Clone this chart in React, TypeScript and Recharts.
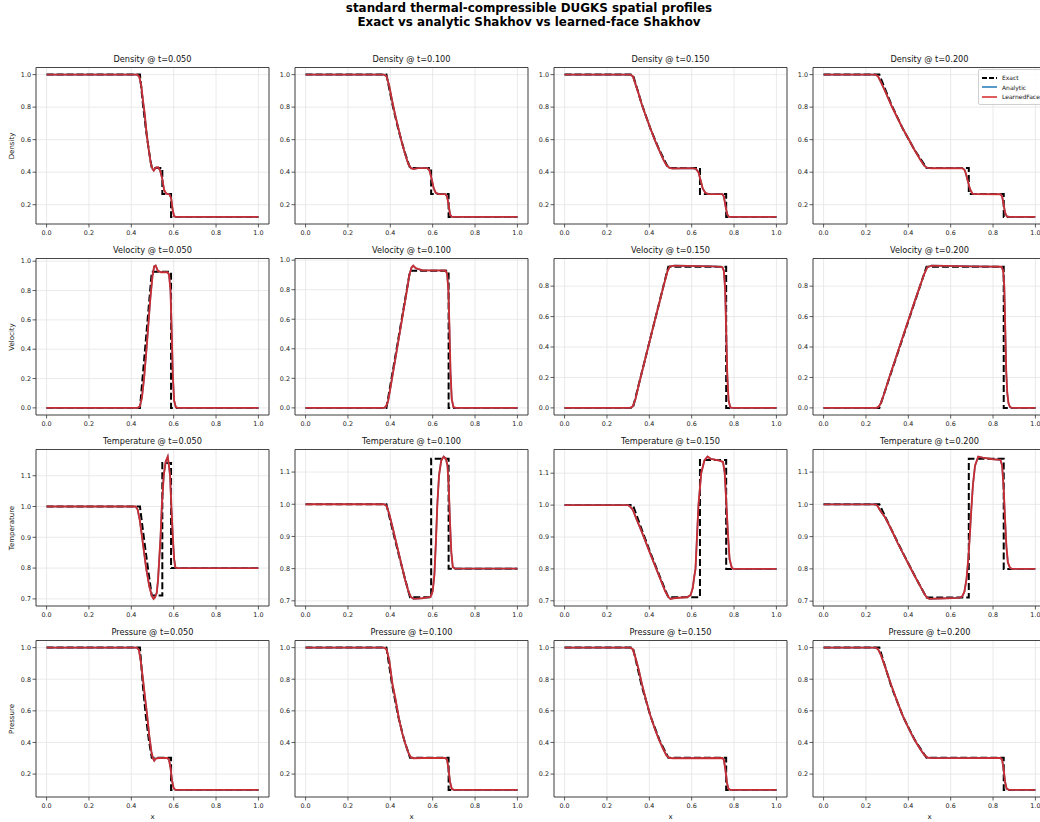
import React from 'react';
import { LineChart, Line, XAxis, YAxis, CartesianGrid, ReferenceArea } from 'recharts';

// Sod tube profiles at four output times; each entry is [x, value]
const quantities = ['Density', 'Velocity', 'Temperature', 'Pressure'];
const times = ['0.050', '0.100', '0.150', '0.200'];
const xTicks = [0, 0.2, 0.4, 0.6, 0.8, 1.0];
const densityTicks = [0.2, 0.4, 0.6, 0.8, 1.0];
const velocityTicks = [0, 0.2, 0.4, 0.6, 0.8, 1.0];
const temperatureTicks = [0.7, 0.8, 0.9, 1.0, 1.1];
const pressureTicks = [0.2, 0.4, 0.6, 0.8, 1.0];

const densityExact = [
  [[0, 1], [0.4408, 1], [0.4547, 0.8188], [0.4687, 0.6649], [0.4826, 0.5351], [0.4965, 0.4263], [0.5464, 0.4263], [0.5464, 0.2656], [0.5876, 0.2656], [0.5876, 0.125], [1, 0.125]],
  [[0, 1], [0.3817, 1], [0.4095, 0.8188], [0.4374, 0.6649], [0.4652, 0.5351], [0.493, 0.4263], [0.5927, 0.4263], [0.5927, 0.2656], [0.6752, 0.2656], [0.6752, 0.125], [1, 0.125]],
  [[0, 1], [0.3225, 1], [0.3643, 0.8188], [0.406, 0.6649], [0.4478, 0.5351], [0.4895, 0.4263], [0.6391, 0.4263], [0.6391, 0.2656], [0.7628, 0.2656], [0.7628, 0.125], [1, 0.125]],
  [[0, 1], [0.2634, 1], [0.319, 0.8188], [0.3747, 0.6649], [0.4303, 0.5351], [0.4859, 0.4263], [0.6855, 0.4263], [0.6855, 0.2656], [0.8504, 0.2656], [0.8504, 0.125], [1, 0.125]],
];

const velocityExact = [
  [[0, 0], [0.4408, 0], [0.4965, 0.9274], [0.5876, 0.9274], [0.5876, 0], [1, 0]],
  [[0, 0], [0.3817, 0], [0.493, 0.9274], [0.6752, 0.9274], [0.6752, 0], [1, 0]],
  [[0, 0], [0.3225, 0], [0.4895, 0.9274], [0.7628, 0.9274], [0.7628, 0], [1, 0]],
  [[0, 0], [0.2634, 0], [0.4859, 0.9274], [0.8504, 0.9274], [0.8504, 0], [1, 0]],
];

const temperatureExact = [
  [[0, 1], [0.4408, 1], [0.4547, 0.9232], [0.4687, 0.8494], [0.4826, 0.7787], [0.4965, 0.7111], [0.5464, 0.7111], [0.5464, 1.1414], [0.5876, 1.1414], [0.5876, 0.8], [1, 0.8]],
  [[0, 1], [0.3817, 1], [0.4095, 0.9232], [0.4374, 0.8494], [0.4652, 0.7787], [0.493, 0.7111], [0.5927, 0.7111], [0.5927, 1.1414], [0.6752, 1.1414], [0.6752, 0.8], [1, 0.8]],
  [[0, 1], [0.3225, 1], [0.3643, 0.9232], [0.406, 0.8494], [0.4478, 0.7787], [0.4895, 0.7111], [0.6391, 0.7111], [0.6391, 1.1414], [0.7628, 1.1414], [0.7628, 0.8], [1, 0.8]],
  [[0, 1], [0.2634, 1], [0.319, 0.9232], [0.3747, 0.8494], [0.4303, 0.7787], [0.4859, 0.7111], [0.6855, 0.7111], [0.6855, 1.1414], [0.8504, 1.1414], [0.8504, 0.8], [1, 0.8]],
];

const pressureExact = [
  [[0, 1], [0.4408, 1], [0.4547, 0.7559], [0.4687, 0.5648], [0.4826, 0.4166], [0.4965, 0.3031], [0.5876, 0.3031], [0.5876, 0.1], [1, 0.1]],
  [[0, 1], [0.3817, 1], [0.4095, 0.7559], [0.4374, 0.5648], [0.4652, 0.4166], [0.493, 0.3031], [0.6752, 0.3031], [0.6752, 0.1], [1, 0.1]],
  [[0, 1], [0.3225, 1], [0.3643, 0.7559], [0.406, 0.5648], [0.4478, 0.4166], [0.4895, 0.3031], [0.7628, 0.3031], [0.7628, 0.1], [1, 0.1]],
  [[0, 1], [0.2634, 1], [0.319, 0.7559], [0.3747, 0.5648], [0.4303, 0.4166], [0.4859, 0.3031], [0.8504, 0.3031], [0.8504, 0.1], [1, 0.1]],
];

const densityLearned = [
  [[0, 1], [0.428, 1], [0.438, 0.985], [0.447, 0.93], [0.455, 0.84], [0.463, 0.76], [0.472, 0.64], [0.482, 0.54], [0.492, 0.455], [0.5, 0.42], [0.506, 0.41], [0.515, 0.428], [0.527, 0.43], [0.536, 0.41], [0.546, 0.36], [0.555, 0.29], [0.565, 0.268], [0.58, 0.263], [0.588, 0.24], [0.595, 0.17], [0.602, 0.128], [0.612, 0.125], [1, 0.125]],
  [[0, 1], [0.37, 1], [0.382, 0.99], [0.395, 0.93], [0.41, 0.83], [0.425, 0.74], [0.44, 0.66], [0.455, 0.58], [0.47, 0.51], [0.485, 0.45], [0.497, 0.425], [0.51, 0.42], [0.53, 0.425], [0.575, 0.425], [0.585, 0.41], [0.595, 0.36], [0.605, 0.3], [0.615, 0.272], [0.63, 0.265], [0.66, 0.265], [0.668, 0.25], [0.675, 0.2], [0.682, 0.14], [0.69, 0.126], [0.7, 0.125], [1, 0.125]],
  [[0, 1], [0.31, 1], [0.322, 0.99], [0.335, 0.94], [0.35, 0.88], [0.365, 0.815], [0.385, 0.74], [0.405, 0.67], [0.425, 0.6], [0.445, 0.54], [0.465, 0.48], [0.48, 0.445], [0.495, 0.426], [0.51, 0.423], [0.6, 0.425], [0.62, 0.42], [0.632, 0.4], [0.642, 0.35], [0.652, 0.3], [0.665, 0.272], [0.68, 0.265], [0.745, 0.265], [0.752, 0.25], [0.76, 0.19], [0.768, 0.14], [0.775, 0.126], [0.785, 0.125], [1, 0.125]],
  [[0, 1], [0.245, 1], [0.257, 0.99], [0.27, 0.955], [0.29, 0.9], [0.32, 0.81], [0.35, 0.73], [0.375, 0.665], [0.405, 0.595], [0.43, 0.535], [0.455, 0.48], [0.475, 0.44], [0.49, 0.426], [0.51, 0.424], [0.655, 0.425], [0.665, 0.415], [0.672, 0.39], [0.68, 0.35], [0.688, 0.31], [0.695, 0.285], [0.703, 0.268], [0.715, 0.265], [0.836, 0.264], [0.843, 0.25], [0.85, 0.2], [0.857, 0.15], [0.865, 0.128], [0.875, 0.125], [1, 0.125]],
];

const velocityLearned = [
  [[0, 0], [0.43, 0], [0.44, 0.01], [0.45, 0.07], [0.46, 0.2], [0.47, 0.37], [0.48, 0.56], [0.49, 0.75], [0.5, 0.9], [0.508, 0.965], [0.515, 0.97], [0.525, 0.935], [0.54, 0.925], [0.57, 0.925], [0.578, 0.91], [0.585, 0.8], [0.59, 0.55], [0.596, 0.22], [0.602, 0.05], [0.61, 0.005], [0.62, 0], [1, 0]],
  [[0, 0], [0.37, 0], [0.38, 0.01], [0.39, 0.05], [0.4, 0.13], [0.42, 0.3], [0.44, 0.47], [0.46, 0.64], [0.48, 0.81], [0.49, 0.9], [0.5, 0.95], [0.508, 0.963], [0.52, 0.945], [0.55, 0.932], [0.66, 0.93], [0.668, 0.91], [0.674, 0.8], [0.679, 0.55], [0.684, 0.25], [0.69, 0.06], [0.698, 0.005], [0.71, 0], [1, 0]],
  [[0, 0], [0.31, 0], [0.322, 0.01], [0.335, 0.06], [0.35, 0.15], [0.375, 0.29], [0.4, 0.43], [0.425, 0.57], [0.45, 0.705], [0.47, 0.815], [0.485, 0.895], [0.497, 0.93], [0.52, 0.935], [0.7, 0.93], [0.745, 0.925], [0.752, 0.9], [0.758, 0.78], [0.763, 0.5], [0.768, 0.22], [0.774, 0.05], [0.782, 0.005], [0.79, 0], [1, 0]],
  [[0, 0], [0.25, 0], [0.26, 0.008], [0.27, 0.03], [0.285, 0.09], [0.31, 0.2], [0.34, 0.325], [0.37, 0.45], [0.4, 0.575], [0.43, 0.7], [0.455, 0.8], [0.475, 0.88], [0.49, 0.925], [0.51, 0.935], [0.7, 0.93], [0.84, 0.928], [0.848, 0.9], [0.853, 0.8], [0.858, 0.5], [0.862, 0.25], [0.867, 0.1], [0.873, 0.03], [0.88, 0.005], [0.89, 0], [1, 0]],
];

const temperatureLearned = [
  [[0, 1], [0.42, 1], [0.43, 0.99], [0.44, 0.955], [0.451, 0.9], [0.47, 0.8], [0.485, 0.74], [0.497, 0.71], [0.505, 0.7], [0.512, 0.705], [0.52, 0.72], [0.526, 0.76], [0.532, 0.83], [0.538, 0.9], [0.544, 1.0], [0.553, 1.1], [0.562, 1.145], [0.572, 1.162], [0.578, 1.13], [0.583, 1.1], [0.589, 1.0], [0.596, 0.9], [0.602, 0.83], [0.608, 0.802], [0.62, 0.8], [1, 0.8]],
  [[0, 1], [0.37, 1], [0.382, 0.995], [0.395, 0.97], [0.41, 0.93], [0.43, 0.875], [0.45, 0.82], [0.47, 0.765], [0.485, 0.73], [0.497, 0.712], [0.51, 0.706], [0.55, 0.708], [0.59, 0.712], [0.6, 0.73], [0.608, 0.78], [0.615, 0.88], [0.622, 1.0], [0.63, 1.09], [0.64, 1.135], [0.652, 1.148], [0.662, 1.142], [0.67, 1.12], [0.676, 1.05], [0.682, 0.94], [0.688, 0.85], [0.695, 0.805], [0.705, 0.8], [1, 0.8]],
  [[0, 1], [0.3, 1], [0.31, 0.995], [0.3225, 0.985], [0.34, 0.955], [0.365, 0.915], [0.406, 0.845], [0.448, 0.775], [0.475, 0.73], [0.49, 0.712], [0.5, 0.706], [0.515, 0.708], [0.58, 0.712], [0.595, 0.718], [0.605, 0.74], [0.612, 0.775], [0.618, 0.8], [0.625, 0.9], [0.632, 1.0], [0.645, 1.1], [0.66, 1.14], [0.675, 1.152], [0.69, 1.145], [0.73, 1.14], [0.748, 1.135], [0.756, 1.1], [0.764, 1.0], [0.772, 0.9], [0.779, 0.83], [0.79, 0.802], [0.8, 0.8], [1, 0.8]],
  [[0, 1], [0.245, 1], [0.255, 0.995], [0.268, 0.98], [0.29, 0.96], [0.32, 0.922], [0.35, 0.88], [0.375, 0.848], [0.4, 0.816], [0.43, 0.778], [0.46, 0.742], [0.48, 0.718], [0.49, 0.71], [0.5, 0.707], [0.55, 0.708], [0.64, 0.71], [0.655, 0.715], [0.665, 0.73], [0.675, 0.77], [0.683, 0.83], [0.69, 0.9], [0.697, 0.98], [0.705, 1.06], [0.715, 1.12], [0.73, 1.148], [0.75, 1.145], [0.8, 1.14], [0.835, 1.138], [0.843, 1.12], [0.85, 1.05], [0.857, 0.95], [0.863, 0.87], [0.87, 0.82], [0.88, 0.803], [0.89, 0.8], [1, 0.8]],
];

const pressureLearned = [
  [[0, 1], [0.426, 1], [0.436, 0.985], [0.445, 0.91], [0.455, 0.8], [0.465, 0.68], [0.474, 0.58], [0.485, 0.44], [0.495, 0.34], [0.502, 0.3], [0.508, 0.285], [0.515, 0.298], [0.53, 0.302], [0.57, 0.302], [0.578, 0.29], [0.585, 0.24], [0.592, 0.16], [0.6, 0.11], [0.608, 0.1], [1, 0.1]],
  [[0, 1], [0.37, 1], [0.382, 0.99], [0.395, 0.92], [0.41, 0.77], [0.425, 0.67], [0.44, 0.555], [0.455, 0.465], [0.47, 0.395], [0.485, 0.335], [0.497, 0.305], [0.51, 0.3], [0.55, 0.302], [0.66, 0.302], [0.668, 0.29], [0.675, 0.23], [0.682, 0.15], [0.69, 0.107], [0.7, 0.1], [1, 0.1]],
  [[0, 1], [0.31, 1], [0.322, 0.99], [0.335, 0.935], [0.35, 0.86], [0.365, 0.77], [0.385, 0.665], [0.405, 0.57], [0.425, 0.49], [0.445, 0.42], [0.465, 0.36], [0.48, 0.32], [0.493, 0.303], [0.51, 0.3], [0.745, 0.302], [0.752, 0.29], [0.759, 0.23], [0.766, 0.15], [0.773, 0.108], [0.782, 0.1], [1, 0.1]],
  [[0, 1], [0.245, 1], [0.257, 0.99], [0.27, 0.955], [0.29, 0.88], [0.32, 0.76], [0.35, 0.65], [0.375, 0.565], [0.405, 0.48], [0.43, 0.415], [0.455, 0.36], [0.475, 0.322], [0.49, 0.305], [0.51, 0.301], [0.835, 0.302], [0.843, 0.29], [0.85, 0.23], [0.857, 0.15], [0.864, 0.108], [0.875, 0.1], [1, 0.1]],
];

const exactSets = [densityExact, velocityExact, temperatureExact, pressureExact];
const learnedSets = [densityLearned, velocityLearned, temperatureLearned, pressureLearned];
// analytic Shakhov closure sits on top of the learned one at this resolution
const analyticSets = learnedSets;
const tickSets = [densityTicks, velocityTicks, temperatureTicks, pressureTicks];

const FONT = '"DejaVu Sans", sans-serif';
const PLOT_X0 = 36;
const PLOT_Y0 = 67.5;
const COL_STEP = 259;
const ROW_STEP = 191;
const PLOT_W = 233;
const PLOT_H = 156.5;
const AXIS_W = 40;
const M_TOP = 6.5;
const M_RIGHT = 8;
const XAXIS_H = 22;
const X_DOMAIN: [number, number] = [-0.05, 1.05];

const EXACT_COLOR = '#000000';
const ANALYTIC_COLOR = '#1f77b4';
const LEARNED_COLOR = '#d62728';

const tickStyle = { fontSize: 6.4, fill: '#222', fontFamily: FONT };
const tickLineStyle = { stroke: '#333', strokeWidth: 0.8 };

const toPoints = (rows: number[][]) => rows.map(([x, y]) => ({ x, y }));

function Panel({ r, c }: { r: number; c: number }) {
  const exact = toPoints(exactSets[r][c]);
  const analytic = toPoints(analyticSets[r][c]);
  const learned = toPoints(learnedSets[r][c]);
  const ys = [...exact, ...learned].map((p) => p.y);
  const lo = Math.min(...ys);
  const hi = Math.max(...ys);
  const pad = (hi - lo) * 0.05;
  const yDomain: [number, number] = [lo - pad, hi + pad];
  const yTicks = tickSets[r].filter((v) => v >= yDomain[0] - 1e-9 && v <= yDomain[1] + 1e-9);
  const left = PLOT_X0 + c * COL_STEP;
  const top = PLOT_Y0 + r * ROW_STEP;

  return (
    <>
      <div
        style={{
          position: 'absolute',
          left: left,
          top: top - 14,
          width: PLOT_W,
          textAlign: 'center',
          fontFamily: FONT,
          fontSize: 8.2,
          color: '#111',
          whiteSpace: 'nowrap',
        }}
      >
        {quantities[r]} @ t={times[c]}
      </div>
      <div style={{ position: 'absolute', left: left - AXIS_W, top: top - M_TOP }}>
        <LineChart
          width={AXIS_W + PLOT_W + M_RIGHT}
          height={M_TOP + PLOT_H + XAXIS_H}
          margin={{ top: M_TOP, right: M_RIGHT, bottom: 0, left: 0 }}
        >
          <CartesianGrid stroke="#e4e4e4" strokeWidth={0.8} />
          <XAxis
            type="number"
            dataKey="x"
            domain={X_DOMAIN}
            ticks={xTicks}
            interval={0}
            allowDataOverflow
            height={XAXIS_H}
            tickFormatter={(v: number) => v.toFixed(1)}
            tick={tickStyle}
            tickLine={tickLineStyle}
            tickSize={3.5}
            tickMargin={2.5}
            axisLine={false}
          />
          <YAxis
            type="number"
            domain={yDomain}
            ticks={yTicks}
            interval={0}
            allowDataOverflow
            width={AXIS_W}
            tickFormatter={(v: number) => v.toFixed(1)}
            tick={tickStyle}
            tickLine={tickLineStyle}
            tickSize={3.5}
            tickMargin={1.5}
            axisLine={false}
          />
          <ReferenceArea
            x1={X_DOMAIN[0]}
            x2={X_DOMAIN[1]}
            y1={yDomain[0]}
            y2={yDomain[1]}
            fill="none"
            stroke="#333"
            strokeWidth={0.9}
            ifOverflow="visible"
          />
          <Line
            data={exact}
            dataKey="y"
            name="Exact"
            type="linear"
            stroke={EXACT_COLOR}
            strokeWidth={2}
            strokeDasharray="7 3"
            dot={false}
            activeDot={false}
            isAnimationActive={false}
          />
          <Line
            data={analytic}
            dataKey="y"
            name="Analytic"
            type="linear"
            stroke={ANALYTIC_COLOR}
            strokeWidth={1.6}
            dot={false}
            activeDot={false}
            isAnimationActive={false}
          />
          <Line
            data={learned}
            dataKey="y"
            name="LearnedFace"
            type="linear"
            stroke={LEARNED_COLOR}
            strokeWidth={1.9}
            strokeOpacity={0.92}
            dot={false}
            activeDot={false}
            isAnimationActive={false}
          />
        </LineChart>
      </div>
      {c === 0 && (
        <div
          style={{
            position: 'absolute',
            left: 12,
            top: top + PLOT_H / 2,
            transform: 'translate(-50%, -50%) rotate(-90deg)',
            fontFamily: FONT,
            fontSize: 7,
            color: '#111',
            whiteSpace: 'nowrap',
          }}
        >
          {quantities[r]}
        </div>
      )}
      {r === quantities.length - 1 && (
        <div
          style={{
            position: 'absolute',
            left: left,
            top: top + PLOT_H + 16,
            width: PLOT_W,
            textAlign: 'center',
            fontFamily: FONT,
            fontSize: 7,
            color: '#111',
          }}
        >
          x
        </div>
      )}
    </>
  );
}

const legendItems = [
  { name: 'Exact', color: EXACT_COLOR, dash: '5 2', width: 2 },
  { name: 'Analytic', color: ANALYTIC_COLOR, dash: undefined, width: 1.5 },
  { name: 'LearnedFace', color: LEARNED_COLOR, dash: undefined, width: 1.5 },
];

function LegendBox() {
  return (
    <div
      style={{
        position: 'absolute',
        left: 978,
        top: 69,
        width: 70,
        padding: '3px 0 2px 3px',
        background: 'rgba(255,255,255,0.85)',
        border: '1px solid #d0d0d0',
        borderRadius: 2,
        fontFamily: FONT,
        fontSize: 6,
        color: '#111',
      }}
    >
      {legendItems.map((it) => (
        <div key={it.name} style={{ display: 'flex', alignItems: 'center', height: 9.5 }}>
          <svg width={16} height={6} style={{ marginRight: 4 }}>
            <line x1={0} y1={3} x2={15} y2={3} stroke={it.color} strokeWidth={it.width} strokeDasharray={it.dash} />
          </svg>
          <span>{it.name}</span>
        </div>
      ))}
    </div>
  );
}

export default function App() {
  return (
    <div
      style={{
        position: 'absolute',
        left: 0,
        top: 0,
        width: 1040,
        height: 822,
        overflow: 'hidden',
        background: '#fff',
      }}
    >
      <div
        style={{
          position: 'absolute',
          left: 0,
          top: 2,
          width: 1058,
          textAlign: 'center',
          fontFamily: FONT,
          fontWeight: 'bold',
          fontSize: 11.9,
          lineHeight: '13.5px',
          color: '#000',
        }}
      >
        standard thermal-compressible DUGKS spatial profiles
        <br />
        Exact vs analytic Shakhov vs learned-face Shakhov
      </div>
      {quantities.map((_, r) => times.map((__, c) => <Panel key={`${r}-${c}`} r={r} c={c} />))}
      <LegendBox />
    </div>
  );
}
